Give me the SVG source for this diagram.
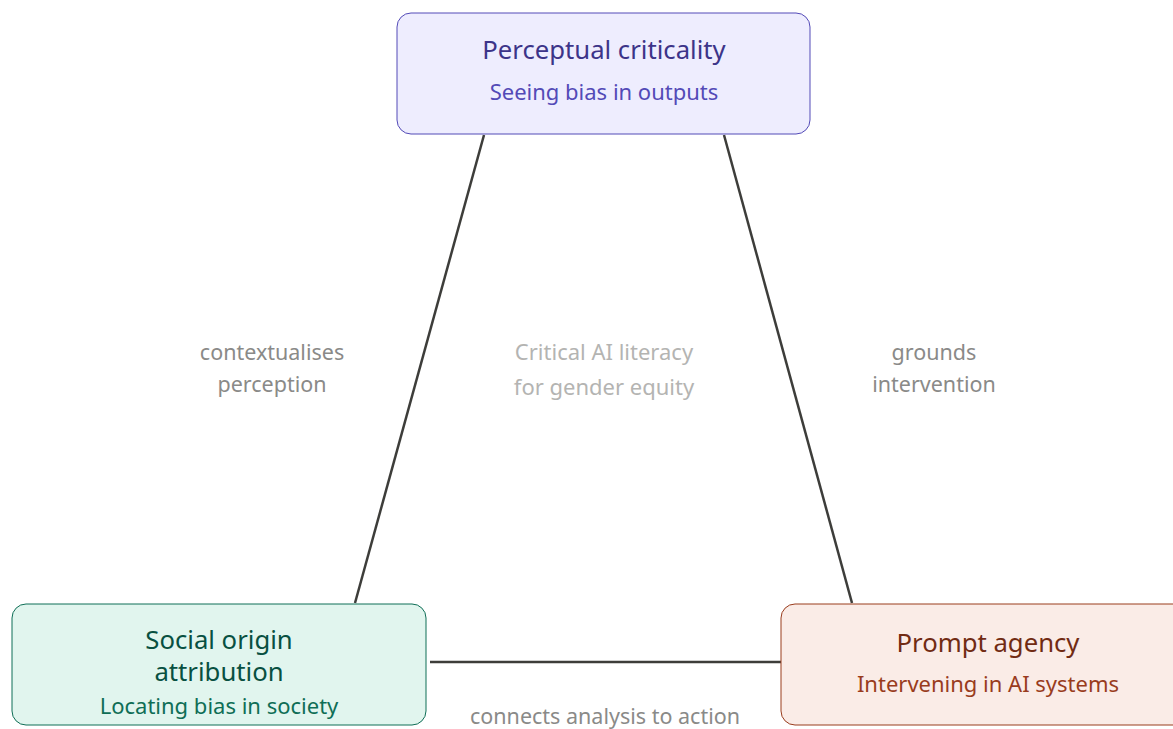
<svg xmlns="http://www.w3.org/2000/svg" width="1173" height="729" viewBox="0 0 1173 729">
<style>
text{font-family:"Noto Sans","Open Sans","DejaVu Sans",sans-serif;text-anchor:middle;dominant-baseline:central}
.t{font-size:25.7px}
.s{font-size:22px}
.e{font-size:21.5px;fill:#8a8a88}
.c{font-size:22px;fill:#b4b4b2}
.ln{stroke:#3d3d3a;stroke-width:2.5;fill:none}
</style>
<rect width="1173" height="729" fill="#ffffff"/>
<g id="connectors">
<line class="ln" x1="484" y1="135" x2="355" y2="603"/>
<line class="ln" x1="724" y1="135" x2="852" y2="603"/>
<line class="ln" x1="430" y1="662" x2="781" y2="662"/>
<text class="e" x="272" y="351">contextualises</text>
<text class="e" x="272" y="383">perception</text>
<text class="e" x="934" y="351">grounds</text>
<text class="e" x="934" y="383">intervention</text>
<text class="e" x="605" y="715">connects analysis to action</text>
</g>
<g id="center-label">
<text class="c" x="604" y="351">Critical AI literacy</text>
<text class="c" x="604" y="386">for gender equity</text>
</g>
<g id="perceptual">
<rect x="397" y="13" width="413" height="121" rx="14" fill="#EEEDFE" stroke="#534AB7" stroke-width="1"/>
<text class="t" x="604" y="49" fill="#3C3489">Perceptual criticality</text>
<text class="s" x="604" y="91" fill="#534AB7">Seeing bias in outputs</text>
</g>
<g id="social">
<rect x="12" y="604" width="414" height="121" rx="14" fill="#E1F5EE" stroke="#0F6E56" stroke-width="1"/>
<text class="t" x="219" y="639" fill="#085041">Social origin</text>
<text class="t" x="219" y="671" fill="#085041">attribution</text>
<text class="s" x="219" y="705" fill="#0F6E56">Locating bias in society</text>
</g>
<g id="prompt">
<rect x="781" y="604" width="414" height="121" rx="14" fill="#FAECE7" stroke="#993C1D" stroke-width="1"/>
<text class="t" x="988" y="642" fill="#712B13">Prompt agency</text>
<text class="s" x="988" y="683" fill="#993C1D">Intervening in AI systems</text>
</g>
</svg>
